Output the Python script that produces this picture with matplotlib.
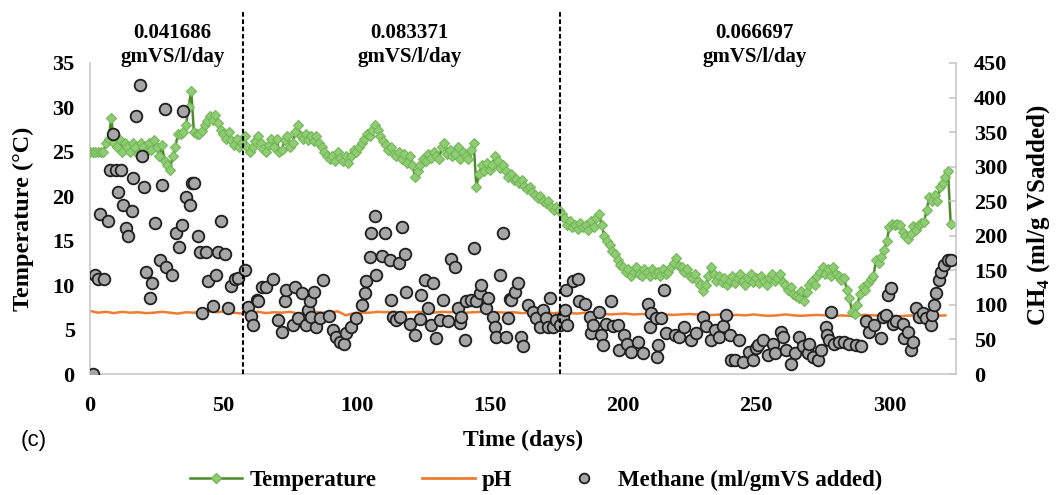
import matplotlib
matplotlib.use('Agg')
import matplotlib.pyplot as plt
from matplotlib.lines import Line2D
import numpy as np

# daily reactor temperature (deg C), day 0 .. 323
temperature = [
    25, 25, 25, 25, 25, 25, 26, 26.5, 28.8, 26,
    25.5, 26.5, 25, 26, 25.5, 25, 26, 25.5, 24.8, 26,
    25.5, 25, 26, 25.2, 26.3, 25.5, 24.5, 25.8, 24, 23.5,
    23, 24.5, 25.5, 27, 27, 27.2, 28, 30, 31.9, 27.2,
    27, 27, 27.3, 28, 28.5, 29, 28.6, 29.1, 28.3, 27.5,
    27, 26.5, 27.2, 26.3, 25.8, 26.5, 25.5, 26, 26.8, 25.5,
    25, 25.5, 26.2, 26.8, 26, 25.3, 25, 25.8, 26.5, 25.5,
    26.5, 25, 25.2, 26.3, 26.8, 25.5, 26, 27.2, 28, 26.8,
    26.5, 27, 26.3, 26.8, 26.2, 26.8, 26, 25.5, 25, 24.5,
    24.2, 24.5, 24, 25, 24.3, 24, 24.5, 23.8, 24.5, 25.2,
    25, 25.5, 26, 26.5, 27, 26.8, 27.5, 28, 27.5, 26.8,
    26.2, 25.8, 25.2, 25.5, 24.8, 24.5, 25, 24.2, 24.8, 23.8,
    24.5, 23.5, 22.2, 22.8, 23.5, 24.2, 24, 24.8, 24.3, 25,
    24.5, 24.2, 25.5, 26, 24.8, 25.2, 24.5, 24.8, 25.5, 24.2,
    25, 24.5, 24.2, 25.2, 26, 21, 22.5, 23.5, 22.8, 23.8,
    23, 23.5, 24.5, 24, 23.2, 23.5, 22.8, 22.2, 22.5, 21.8,
    22, 21.5, 21.8, 21.2, 20.8, 21, 20.5, 20.2, 19.8, 20,
    19.5, 19.2, 19.5, 18.8, 18.5, 18.8, 18.5, 18, 17.5, 16.8,
    17.2, 16.5, 16.8, 16.3, 17, 16.5, 16.8, 16.2, 17.2, 16.5,
    17.5, 18, 16.8, 15.5, 15, 14.5, 13.8, 13.5, 12.8, 12.3,
    12, 11.5, 11.8, 11, 11.5, 12, 11.3, 11, 11.8, 11.5,
    11, 11.8, 11.2, 11.5, 11, 11.8, 11.3, 11.5, 12, 12.5,
    13, 12.2, 12, 11.5, 11.8, 11, 10.8, 11.3, 10.5, 10,
    9.3, 10, 11, 12, 11.2, 10.5, 11, 10.3, 10.8, 10,
    10.5, 11, 10.2, 10.8, 11.3, 10.5, 10, 10.8, 11.2, 10.3,
    10.8, 10.2, 11, 10.5, 10, 10.8, 11.2, 10.5, 10.8, 11.2,
    10.3, 10, 9.5, 9.8, 9, 8.8, 8.5, 9.3, 8.2, 9.2,
    10, 10.5, 10, 11, 11.5, 12, 11.2, 11.8, 11, 12,
    11.2, 11, 10.6, 10.8, 9.5, 8.5, 7, 6.8, 7.8, 9,
    9.8, 9.5, 10.2, 10.7, 11, 12.8, 12.5, 13.2, 13.9, 15,
    16.5, 16.9, 16.8, 16.9, 16.8, 16, 15.5, 15.2, 15.8, 16.6,
    16.2, 16.8, 17, 17.1, 18.5, 19.9, 19.5, 20.2, 19.5, 21,
    21.5, 22.2, 22.9, 16.9,
]
temp_days = np.arange(len(temperature))

# pH, read every third day
ph = [
    7.1, 6.9, 7.0, 6.85, 7.0, 6.9, 6.95, 6.85, 6.9, 7.0,
    6.9, 6.8, 6.95, 6.9, 7.0, 7.05, 6.95, 7.1, 6.9, 6.8,
    6.9, 7.0, 6.85, 6.95, 6.9, 7.0, 6.8, 6.95, 7.0, 6.9,
    6.95, 7.05, 6.6, 6.85, 6.9, 6.9, 7.0, 6.95, 7.0, 6.9,
    6.95, 7.0, 6.95, 6.9, 7.0, 6.95, 7.0, 6.9, 6.95, 7.0,
    6.9, 6.95, 6.9, 6.95, 6.85, 6.9, 6.95, 6.9, 6.85, 6.9,
    6.85, 6.8, 6.9, 6.75, 6.8, 6.7, 6.75, 6.8, 6.7, 6.75,
    6.7, 6.8, 6.7, 6.65, 6.7, 6.75, 6.7, 6.6, 6.65, 6.7,
    6.6, 6.65, 6.6, 6.7, 6.6, 6.55, 6.6, 6.7, 6.6, 6.55,
    6.6, 6.65, 6.6, 6.5, 6.6, 6.55, 6.6, 6.65, 6.6, 6.55,
    6.6, 6.5, 6.55, 6.6, 6.55, 6.6, 6.55, 6.6,
]
ph_days = np.arange(0, 3 * len(ph), 3)

# methane yield (ml/g VS added)
ch4_days = [
    1, 1.9, 3.1, 3.8, 5.4, 6.6, 7.5, 8.7, 9.6, 10.4, 11.6, 12.2, 13.4, 14.4,
    15.6, 16.2, 17.1, 18.7, 19.4, 20.4, 21.2, 22.5, 23.1, 24.4, 26.2, 27.2,
    28.1, 28.7, 30.9, 32.1, 33.5, 34.4, 35, 36.2, 37.5, 38.2, 39.2, 40.4,
    41.2, 42.1, 43.7, 44.4, 46.2, 47.2, 47.9, 49.1, 50.6, 51.9, 53.1, 54.4,
    55.6, 58.1, 59.4, 60.3, 61.2, 62.5, 63.1, 64.4, 66.2, 68.7, 70.6, 71.9,
    73.1, 73.7, 76.2, 76.9, 78.1, 79.4, 81.2, 81.9, 82.5, 83.1, 84, 85,
    86.2, 87.5, 89.7, 91.2, 92.5, 93.7, 95.4, 96.2, 98.1, 100, 102.2, 103.1,
    103.7, 105, 105.6, 106.9, 107.2, 109.4, 110.6, 112.5, 113.1, 113.7, 115,
    116, 116.2, 117.2, 118.1, 118.7, 120, 121.9, 123.7, 124.4, 125.6, 126.9,
    128.1, 128.7, 130, 131.2, 132.5, 134.4, 135.6, 136.9, 138.1, 138.7,
    139.4, 140.6, 141.2, 143.1, 144, 145, 146.2, 146.9, 148.7, 149.4, 151.2,
    151.9, 152.5, 153.7, 155, 156.2, 156.8, 157.5, 158.1, 159.4, 160.6,
    161.9, 162.5, 164.4, 166.2, 167.5, 168.7, 170, 171.2, 171.9, 172.5,
    173.7, 175, 176.2, 177.5, 178.1, 178.7, 179.2, 181.2, 183.1, 183.6,
    185.6, 187.5, 188.1, 188.7, 191, 191.9, 192.5, 193.7, 195.6, 196.1, 198,
    198.6, 200.5, 201.7, 203, 205.6, 207.5, 209.4, 210, 210.6, 212.5, 212.9,
    213.1, 214.4, 215.6, 216.2, 219.4, 221.2, 223.1, 225.6, 227.5, 230,
    231.2, 233.1, 234.4, 236.2, 237.5, 238.7, 240, 240.5, 241.9, 243.7, 245,
    247.5, 248.7, 250, 250.6, 252.5, 254.4, 256.2, 256.9, 259.4, 259.9,
    261.2, 263.1, 264.4, 266.2, 267.5, 269.4, 270, 271.2, 273.1, 274.4,
    276.2, 276.5, 277.5, 278.1, 279.4, 281.2, 283.1, 285, 287.5, 289.4,
    291.2, 292.5, 294.4, 296.9, 297.5, 298.7, 299.4, 300.6, 301.2, 302.5,
    305, 305.6, 306.9, 308.1, 308.7, 310, 311.2, 312.5, 313.7, 315.6, 315.9,
    316.9, 317.5, 318.7, 319.4, 320.6, 321.9, 323.1,
]
ch4_vals = [
    0, 143, 137, 232, 137, 221, 295, 347, 295, 263, 295, 244, 211, 200,
    236, 283, 373, 418, 316, 271, 147, 110, 132, 219, 165, 273,
    383, 155, 143, 204, 184, 216, 380, 256, 244, 276, 276, 199,
    177, 88, 177, 134, 99, 143, 177, 221, 173, 95, 127, 138,
    139, 150, 97, 84, 71, 107, 105, 126, 126, 137, 78, 61,
    105, 122, 71, 126, 81, 117, 71, 93, 105, 83, 118, 68,
    81, 136, 84, 64, 54, 47, 44, 59, 68, 81, 100, 117,
    134, 170, 204, 228, 143, 171, 204, 165, 107, 83, 78,
    161, 83, 212, 174, 118, 73, 56, 79, 114, 136, 95,
    71, 131, 52, 78, 107, 77, 166, 155, 95, 74,
    83, 49, 105, 107, 182, 105, 117, 129, 95, 110, 83,
    68, 54, 143, 204, 53, 81, 108, 107, 119, 131,
    54, 40, 100, 90, 81, 68, 93, 81, 68, 110,
    68, 78, 71, 83, 93, 122, 71, 134, 138, 105,
    102, 83, 59, 71, 90, 56, 42, 73, 105, 69, 71,
    35, 56, 44, 32, 47, 30, 102, 68, 88, 81, 25,
    42, 81, 122, 59, 56, 54, 68, 49, 59, 83,
    69, 49, 64, 54, 69, 85, 56, 20, 20, 49, 18,
    32, 20, 37, 42, 49, 27, 44, 30, 61, 54,
    35, 15, 30, 54, 40, 30, 44, 25, 20, 35,
    68, 56, 49, 90, 44, 47, 47, 44, 42, 40,
    76, 61, 71, 52, 83, 85, 114, 124, 73, 76,
    73, 52, 61, 35, 47, 95, 83, 88, 81, 71, 85,
    100, 117, 136, 148, 158, 165, 165,
]

# organic loading rate periods
olr_breaks = [57.5, 176.5]
olr_labels = ['0.041686\ngmVS/l/day', '0.083371\ngmVS/l/day', '0.066697\ngmVS/l/day']
olr_label_x = [31, 120, 249.5]

serif = 'Liberation Serif'
plt.rcParams['font.family'] = serif
plt.rcParams['font.weight'] = 'bold'

fig = plt.figure(figsize=(10.61, 4.95), dpi=100)
ax = fig.add_axes([90 / 1061, 121 / 495, 866 / 1061, 311 / 495])
ax2 = ax.twinx()

ax.plot(temp_days, temperature, color='#4e8a2c', lw=1.8, marker='D', ms=5.4,
        mfc='#8fcd72', mec='#74b55a', mew=0.8, zorder=3)
ax.plot(ph_days, ph, color='#ed7d31', lw=1.8, zorder=2)
ax2.plot(ch4_days, ch4_vals, ls='none', marker='o', ms=8.4, mfc='#a6a6a6',
         mec='#1e1e1e', mew=1.3, zorder=4)

ax.set_xlim(0, 325)
ax.set_ylim(0, 35)
ax2.set_ylim(0, 450)
ax.set_xticks(np.arange(0, 301, 50))
ax.set_yticks(np.arange(0, 36, 5))
ax2.set_yticks(np.arange(0, 451, 50))

for a in (ax, ax2):
    for s in a.spines.values():
        s.set_color('#c8c8c8')
        s.set_linewidth(1.2)
    a.spines['top'].set_visible(False)
ax.spines['right'].set_visible(False)
ax2.spines['left'].set_visible(False)
ax2.spines['bottom'].set_visible(False)

ax.tick_params(axis='x', length=0, pad=16, labelsize=16)
ax.tick_params(axis='y', length=0, pad=11, labelsize=16)
ax2.tick_params(axis='y', direction='in', length=5, color='#c8c8c8', width=1.2,
                pad=13, labelsize=16)

ax.set_xlabel('Time (days)', fontsize=17, fontweight='bold', va='center')
ax.xaxis.set_label_coords(0.5, -0.212)
ax.set_ylabel('Temperature (°C)', fontsize=17.5, fontweight='bold', va='center')
ax.yaxis.set_label_coords(-0.077, 0.5)
ax2.set_ylabel(r'CH$_\mathregular{4}$ (ml/g VSadded)', fontsize=18, fontweight='bold',
               va='center', rotation=90)
ax2.yaxis.set_label_coords(1.095, 0.51)

# period boundaries run up past the plot top
for xb in olr_breaks:
    ax2.plot([xb, xb], [0, 527], color='black', lw=1.5, ls=(0, (2.2, 1.3)),
             clip_on=False, zorder=5)
for xl, txt in zip(olr_label_x, olr_labels):
    ax2.text(xl, 476, txt, ha='center', va='center', fontsize=15,
             fontweight='bold', linespacing=1.3)

fig.text(0.032, 0.111, '(c)', family='Liberation Sans', fontweight='normal',
         fontsize=16, ha='center', va='center')

handles = [
    Line2D([], [], color='#4e8a2c', lw=1.8, marker='D', ms=5, mfc='#8fcd72', mec='#74b55a'),
    Line2D([], [], color='#ed7d31', lw=2),
    Line2D([], [], ls='none', marker='o', ms=7, mfc='#a6a6a6', mec='#1e1e1e', mew=1.3),
]
fig.legend(handles, ['Temperature', 'pH', 'Methane (ml/gmVS added)'], loc='center',
           bbox_to_anchor=(0.505, 0.03), ncol=3, frameon=False,
           prop={'family': serif, 'weight': 'bold', 'size': 16.5},
           handlelength=2.3, handletextpad=0.3, columnspacing=2.0)

fig.savefig('out.png', dpi=100)
